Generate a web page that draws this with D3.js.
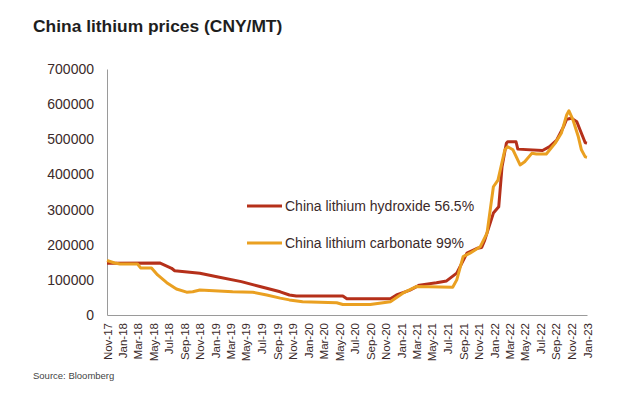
<!DOCTYPE html>
<html>
<head>
<meta charset="utf-8">
<script src="https://cdn.jsdelivr.net/npm/d3@7"></script>
<style>
  body { margin: 0; background: #fff; }
  text { font-family: "Liberation Sans", Arial, sans-serif; }
</style>
</head>
<body>
<svg id="chart"></svg>
<script>
// hydroxide 56.5%
var hydroxideDates = ["2017-11-01","2018-05-27","2018-07-13","2018-07-25","2018-11-01","2019-01-07","2019-04-13","2019-06-25","2019-09-13","2019-10-19","2019-11-15","2020-05-16","2020-06-01","2020-11-19","2020-12-13","2021-02-04","2021-03-13","2021-05-19","2021-06-28","2021-08-07","2021-09-16","2021-10-26","2021-11-13","2021-11-25","2021-12-29","2022-01-19","2022-02-01","2022-02-18","2022-02-23","2022-03-28","2022-04-04","2022-07-10","2022-08-07","2022-09-04","2022-10-01","2022-10-13","2022-11-01","2022-11-22","2022-12-10","2022-12-25","2023-01-01"];
var hydroxideValues = [147000,148000,133000,126000,119000,109000,95000,81000,66000,57000,54000,54000,46000,46000,57000,71000,85000,92000,97000,119000,176000,190000,192000,213000,290000,308000,422000,489000,493000,493000,472000,468000,479000,498000,536000,557000,560000,550000,517000,490000,489000];

// carbonate 99%
var carbonateDates = ["2017-11-01","2017-12-01","2017-12-22","2018-03-01","2018-03-13","2018-04-25","2018-05-19","2018-06-24","2018-08-01","2018-09-10","2018-10-04","2018-11-01","2019-03-10","2019-05-28","2019-07-22","2019-09-13","2019-10-19","2019-12-10","2020-04-22","2020-05-16","2020-09-01","2020-11-19","2021-01-07","2021-03-01","2021-07-22","2021-08-07","2021-09-01","2021-09-28","2021-11-07","2021-12-04","2021-12-29","2022-01-16","2022-02-12","2022-02-23","2022-03-16","2022-04-13","2022-05-01","2022-05-29","2022-06-16","2022-07-25","2022-08-29","2022-09-22","2022-10-13","2022-10-22","2022-11-07","2022-11-28","2022-12-10","2022-12-25","2023-01-01"];
var carbonateValues = [155000,148000,145000,145000,134000,134000,114000,92000,74000,65000,66000,71000,66000,65000,57000,48000,43000,38000,35000,30000,30000,38000,62000,81000,79000,100000,166000,176000,194000,233000,365000,384000,470000,479000,470000,427000,436000,460000,458000,458000,489000,517000,569000,581000,555000,507000,470000,450000,449000];

var seriesNames = ["China lithium hydroxide 56.5%", "China lithium carbonate 99%"];
var seriesColors = ["#b5301a", "#eaa021"];
var yTicks = [0,100000,200000,300000,400000,500000,600000,700000];

var width = 621, height = 399;
var margins = { top: 69, bottom: 84, left: 107, right: 34 };

var parse = d3.timeParse("%Y-%m-%d");
var series = [
  hydroxideDates.map(function(d,i){ return {date: parse(d), value: hydroxideValues[i]}; }),
  carbonateDates.map(function(d,i){ return {date: parse(d), value: carbonateValues[i]}; })
];

var svg = d3.select("#chart")
  .attr("width", width)
  .attr("height", height);

var xScale = d3.scaleTime()
  .domain([parse("2017-11-01"), parse("2023-01-01")])
  .range([margins.left, width - margins.right]);

var yScale = d3.scaleLinear()
  .domain([0, 700000])
  .range([height - margins.bottom, margins.top]);

// title
svg.append("text")
  .attr("x", 33)
  .attr("y", 32)
  .attr("font-size", 17.4)
  .attr("font-weight", "bold")
  .attr("fill", "#1e1e1e")
  .text("China lithium prices (CNY/MT)");

// y axis
var yAxis = d3.axisLeft(yScale)
  .tickValues(yTicks)
  .tickSize(0)
  .tickPadding(13)
  .tickFormat(d3.format("d"));

var gy = svg.append("g")
  .attr("transform", "translate(" + margins.left + ",0)")
  .call(yAxis);
gy.select(".domain").attr("stroke", "#9a9a9a");
gy.selectAll("text")
  .attr("font-size", 14)
  .attr("fill", "#3b2a2a")
  .style("font-family", "Liberation Sans, Arial, sans-serif");

// x axis
var xAxis = d3.axisBottom(xScale)
  .ticks(d3.timeMonth.every(2))
  .tickSize(0)
  .tickFormat(d3.timeFormat("%b-%y"));

var gx = svg.append("g")
  .attr("transform", "translate(0," + (height - margins.bottom) + ")")
  .call(xAxis);
gx.select(".domain").attr("stroke", "#9a9a9a");
gx.selectAll("text")
  .attr("font-size", 11.5)
  .attr("fill", "#3b2a2a")
  .style("font-family", "Liberation Sans, Arial, sans-serif")
  .attr("text-anchor", "end")
  .attr("transform", "rotate(-90)")
  .attr("x", -8)
  .attr("y", 0)
  .attr("dy", "0.35em");

// lines
var drawLine = d3.line()
  .x(function(d){ return xScale(d.date); })
  .y(function(d){ return yScale(d.value); });

svg.selectAll(".series")
  .data(series)
  .enter()
  .append("path")
  .attr("class", "series")
  .attr("d", drawLine)
  .attr("fill", "none")
  .attr("stroke", function(d,i){ return seriesColors[i]; })
  .attr("stroke-width", 3)
  .attr("stroke-linejoin", "round");

// legend
var legend = svg.selectAll(".legend")
  .data(seriesNames)
  .enter()
  .append("g")
  .attr("class", "legend")
  .attr("transform", function(d,i){ return "translate(247," + (206 + i*37) + ")"; });

legend.append("line")
  .attr("x1", 0).attr("x2", 35)
  .attr("stroke", function(d,i){ return seriesColors[i]; })
  .attr("stroke-width", 3);

legend.append("text")
  .attr("x", 38)
  .attr("dy", "0.35em")
  .attr("font-size", 14)
  .attr("fill", "#3b2a2a")
  .text(function(d){ return d; });

// source
svg.append("text")
  .attr("x", 33)
  .attr("y", 379)
  .attr("font-size", 9.5)
  .attr("fill", "#444")
  .text("Source: Bloomberg");
</script>
</body>
</html>
